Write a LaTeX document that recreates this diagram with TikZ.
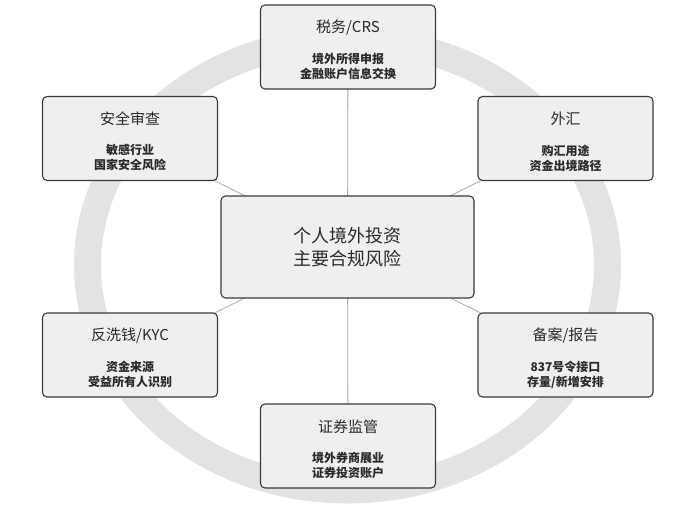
\documentclass[tikz,border=0pt]{standalone}
\usepackage{fontspec}
\newfontfamily\cjk{Noto Sans CJK SC}
\usetikzlibrary{backgrounds}
\definecolor{ringgray}{HTML}{E3E3E3}
\definecolor{boxfill}{HTML}{EFEFEF}
\definecolor{boxline}{HTML}{3A3A3A}
\definecolor{linkgray}{HTML}{A8A8A8}
\definecolor{txt}{HTML}{2A2A2A}
\tikzset{
  areabox/.style={draw=boxline, fill=boxfill, rounded corners=4.5pt, line width=1.1pt,
    minimum width=175pt, minimum height=84pt, inner sep=0pt},
  centerbox/.style={areabox, minimum width=253pt, minimum height=102pt},
  titletext/.style={font=\cjk\fontsize{15}{18}\selectfont, text=txt, inner sep=0pt},
  subtext/.style={font=\cjk\bfseries\fontsize{12}{15}\selectfont, text=txt, align=center, inner sep=0pt},
  maintext/.style={font=\cjk\fontsize{18}{23}\selectfont, text=txt, align=center, inner sep=0pt},
  link/.style={draw=linkgray, line width=0.8pt}
}
\begin{document}
\begin{tikzpicture}[x=1pt,y=-1pt]
\useasboundingbox (0,0) rectangle (700,513);
% boxes
\node[centerbox] (c) at (347.5,247) {};
\node[maintext] (ct) at (c.center) {个人境外投资\\主要合规风险};

\node[areabox] (tax) at (348,47) {};
\node[titletext] (taxt) at ([yshift=-23pt]tax.north) {税务/CRS};
\node[subtext] (taxs) at ([yshift=-62pt]tax.north) {境外所得申报\\金融账户信息交换};

\node[areabox] (sec) at (130,138.5) {};
\node[titletext] (sect) at ([yshift=-23pt]sec.north) {安全审查};
\node[subtext] (secs) at ([yshift=-62pt]sec.north) {敏感行业\\国家安全风险};

\node[areabox] (fx) at (565.5,138.5) {};
\node[titletext] (fxt) at ([yshift=-23pt]fx.north) {外汇};
\node[subtext] (fxs) at ([yshift=-62pt]fx.north) {购汇用途\\资金出境路径};

\node[areabox] (aml) at (130,355) {};
\node[titletext] (amlt) at ([yshift=-23pt]aml.north) {反洗钱/KYC};
\node[subtext] (amls) at ([yshift=-62pt]aml.north) {资金来源\\受益所有人识别};

\node[areabox] (rep) at (565.5,355) {};
\node[titletext] (rept) at ([yshift=-23pt]rep.north) {备案/报告};
\node[subtext] (reps) at ([yshift=-62pt]rep.north) {837号令接口\\存量/新增安排};

\node[areabox] (sr) at (348,446) {};
\node[titletext] (srt) at ([yshift=-23pt]sr.north) {证券监管};
\node[subtext] (srs) at ([yshift=-62pt]sr.north) {境外券商展业\\证券投资账户};

\begin{pgfonlayer}{background}
\draw[draw=ringgray, line width=27pt] (347.5,265) ellipse [x radius=260pt, y radius=225pt];
\draw[link] (c.center) -- (tax.center);
\draw[link] (c.center) -- (sec.center);
\draw[link] (c.center) -- (fx.center);
\draw[link] (c.center) -- (aml.center);
\draw[link] (c.center) -- (rep.center);
\draw[link] (c.center) -- (sr.center);
\end{pgfonlayer}
\end{tikzpicture}
\end{document}
